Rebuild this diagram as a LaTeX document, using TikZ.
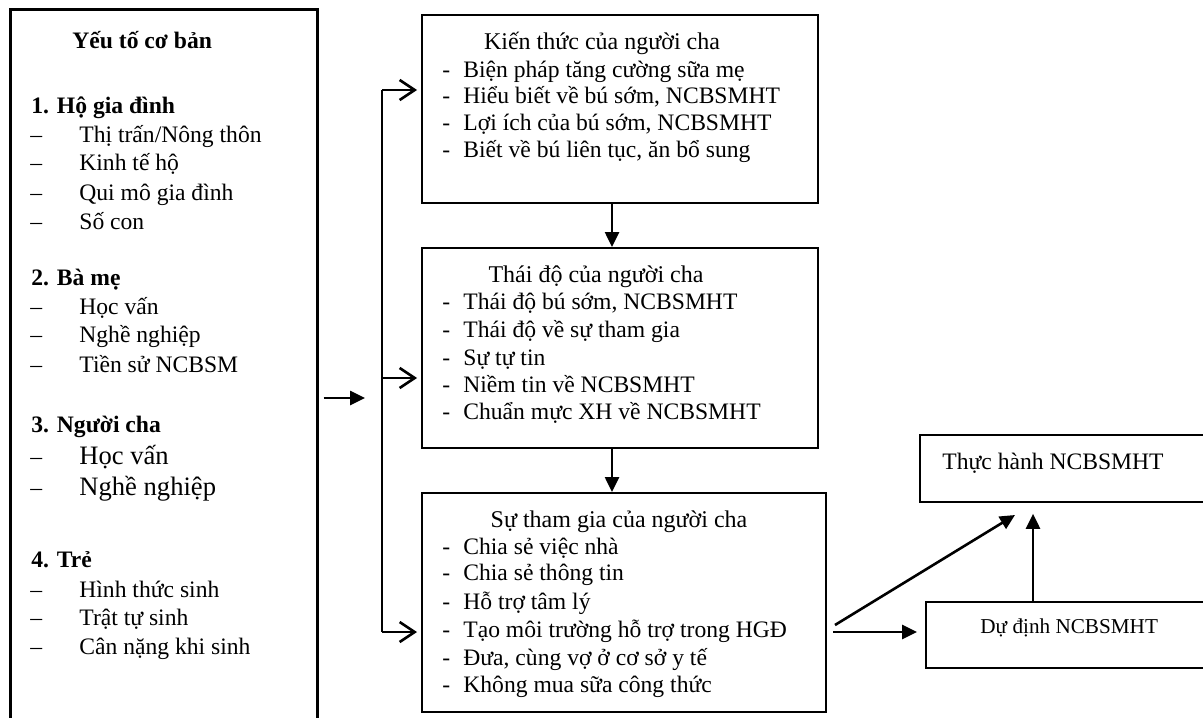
\documentclass[tikz,border=0pt]{standalone}
\usepackage{fontspec}
\setmainfont{Liberation Serif}
\usetikzlibrary{arrows.meta,fit}
\tikzset{
  framebox/.style={draw,inner sep=0pt,line width=1pt},
  txt/.style={anchor=base west,inner sep=0pt,font=\fontsize{11.8}{14}\selectfont},
  bld/.style={txt,font=\fontsize{11.8}{14}\selectfont\bfseries},
  ttl/.style={anchor=base,inner sep=0pt,font=\fontsize{12}{14}\selectfont},
  solidarrow/.style={line width=1.3pt,-{Triangle[length=7.5pt,width=7pt]}},
  openarrow/.style={line width=1.3pt,-{Straight Barb[length=7.5pt,width=10pt,line width=1.3pt]}},
}
\newcommand{\ldash}[1]{\makebox[24.5pt][l]{\textendash}#1}
\newcommand{\rdash}[1]{\makebox[10.5pt][l]{-}#1}
\begin{document}
\begin{tikzpicture}[x=0.5pt,y=-0.5pt]
\clip (0,0) rectangle (1203,717);
% yeu to co ban
\node[framebox,line width=1.5pt,fit={(10,10) (317,760)}] (coban) {};
\node[bld] (tcoban) at (72,49) {Yếu tố cơ bản};
\node[bld] (s1) at (31,113) {1. Hộ gia đình};
\foreach \y/\s [count=\i] in {142/{Thị trấn/Nông thôn},170/{Kinh tế hộ},200/{Qui mô gia đình},229/{Số con}}
  \node[txt] (s1i\i) at (30,\y) {\ldash{\s}};
\node[bld] (s2) at (31,285) {2. Bà mẹ};
\foreach \y/\s [count=\i] in {314/{Học vấn},342/{Nghề nghiệp},372/{Tiền sử NCBSM}}
  \node[txt] (s2i\i) at (30,\y) {\ldash{\s}};
\node[bld] (s3) at (31,432) {3. Người cha};
\foreach \y/\s [count=\i] in {464/{Học vấn},495/{Nghề nghiệp}}
  \node[txt] (s3i\i) at (30,\y) {\ldash{\fontsize{13.3}{16}\selectfont\s}};
\node[bld] (s4) at (31,567) {4. Trẻ};
\foreach \y/\s [count=\i] in {597/{Hình thức sinh},625/{Trật tự sinh},654/{Cân nặng khi sinh}}
  \node[txt] (s4i\i) at (30,\y) {\ldash{\s}};

% ba hop ben phai
\node[framebox,fit={(422,15) (818,203)}] (kienthuc) {};
\node[ttl] (tkienthuc) at (602,50) {Kiến thức của người cha};
\foreach \y/\s [count=\i] in {77/{Biện pháp tăng cường sữa mẹ},104/{Hiểu biết về bú sớm, NCBSMHT},130/{Lợi ích của bú sớm, NCBSMHT},157/{Biết về bú liên tục, ăn bổ sung}}
  \node[txt] (k\i) at (442,\y) {\rdash{\s}};

\node[framebox,fit={(422,248) (818,448)}] (thaido) {};
\node[ttl] (tthaido) at (596,282) {Thái độ của người cha};
\foreach \y/\s [count=\i] in {309/{Thái độ bú sớm, NCBSMHT},337/{Thái độ về sự tham gia},365/{Sự tự tin},392/{Niềm tin về NCBSMHT},419/{Chuẩn mực XH về NCBSMHT}}
  \node[txt] (d\i) at (442,\y) {\rdash{\s}};

\node[framebox,fit={(422,493) (826,712)}] (thamgia) {};
\node[ttl] (tthamgia) at (619,527) {Sự tham gia của người cha};
\foreach \y/\s [count=\i] in {554/{Chia sẻ việc nhà},580/{Chia sẻ thông tin},609/{Hỗ trợ tâm lý},637/{Tạo môi trường hỗ trợ trong HGĐ},665/{Đưa, cùng vợ ở cơ sở y tế},692/{Không mua sữa công thức}}
  \node[txt] (g\i) at (442,\y) {\rdash{\s}};

% thuc hanh, du dinh
\node[framebox,line width=0.8pt,fit={(920,435) (1215,502)}] (thuchanh) {};
\node[txt] (tthuchanh) at (942,469) {Thực hành NCBSMHT};
\node[framebox,fit={(926,602) (1215,668)}] (dudinh) {};
\node[txt,font=\fontsize{10.6}{13}\selectfont] (tdudinh) at (980,633) {Dự định NCBSMHT};

% mui ten
\coordinate (brtop) at (382,90);
\coordinate (brmid) at (382,378);
\coordinate (brbot) at (382,632);
\coordinate (brin) at (365,398);
\coordinate (down) at (612,0);
\coordinate (dgstart) at (835,625);
\coordinate (dgend) at (1015,515);
\coordinate (up) at (1033,0);
\draw[line width=1.3pt] (brtop) -- (brbot);
\foreach \c/\n in {brtop/kienthuc,brmid/thaido,brbot/thamgia}
  \draw[openarrow,shorten >=2pt] (\c) -- (\c -| \n.west);
\draw[solidarrow,shorten <=2.5pt] (coban.east |- brin) -- (brin);
\draw[solidarrow] (kienthuc.south -| down) -- (thaido.north -| down);
\draw[solidarrow] (thaido.south -| down) -- (thamgia.north -| down);
\draw[solidarrow,shorten <=3pt,shorten >=4pt] ([yshift=1.5pt]thamgia.east |- dudinh.west) -- ([yshift=1.5pt]dudinh.west);
\draw[solidarrow] (dgstart) -- (dgend);
\draw[solidarrow,shorten >=5.5pt] (dudinh.north -| up) -- (thuchanh.south -| up);
\end{tikzpicture}
\end{document}
